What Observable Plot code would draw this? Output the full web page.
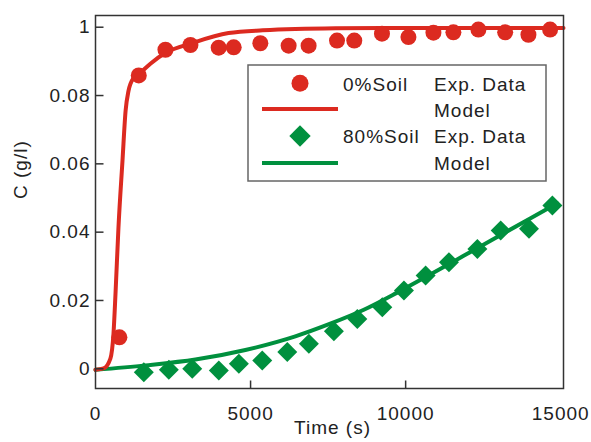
<!DOCTYPE html>
<html><head><meta charset="utf-8">
<script src="https://cdn.jsdelivr.net/npm/d3@7"></script>
<script src="https://cdn.jsdelivr.net/npm/@observablehq/plot@0.6"></script>
<style>body{margin:0;background:#fff} #chart svg{display:block}</style>
</head><body><div id="chart"></div>
<script>
// 0% soil: experimental data
const soil0Time = [770, 1395, 2255, 3061, 3972, 4456, 5315, 6227, 6871, 7787, 8344, 9237, 10090, 10896, 11540, 12346, 13209, 13959, 14658];
const soil0Conc = [0.0092, 0.0859, 0.0934, 0.0948, 0.0940, 0.0941, 0.0953, 0.0946, 0.0946, 0.0961, 0.0961, 0.0981, 0.0971, 0.0984, 0.0985, 0.0993, 0.0985, 0.0978, 0.0993];
// 0% soil: model
const soil0ModelTime = [0, 260, 480, 580, 645, 740, 870, 970, 1065, 1230, 1450, 1770, 2260, 3130, 4290, 5390, 7740, 10000, 15090];
const soil0ModelConc = [-0.0003, 0.0001, 0.0030, 0.0103, 0.0220, 0.0413, 0.0609, 0.0755, 0.0814, 0.0852, 0.0867, 0.0893, 0.0925, 0.0954, 0.0983, 0.0991, 0.0997, 0.0998, 0.0998];
// 80% soil: experimental data
const soil80Time = [1558, 2365, 3119, 3977, 4623, 5377, 6184, 6881, 7687, 8442, 9248, 9945, 10645, 11397, 12313, 13065, 13977, 14732];
const soil80Conc = [-0.0010, -0.0003, 0.0000, -0.0005, 0.0015, 0.0024, 0.0049, 0.0073, 0.0110, 0.0146, 0.0180, 0.0229, 0.0273, 0.0312, 0.0351, 0.0405, 0.0410, 0.0478];
// 80% soil: model
const soil80ModelTime = [0, 1611, 3222, 4833, 6443, 7571, 8634, 9729, 10793, 11856, 12951, 14014, 14884];
const soil80ModelConc = [-0.0003, 0.0010, 0.0027, 0.0055, 0.0095, 0.0132, 0.0172, 0.0223, 0.0276, 0.0330, 0.0386, 0.0440, 0.0484];

const yTicks = [0, 0.02, 0.04, 0.06, 0.08, 0.1];
const yTickLabels = ["0", "0.02", "0.04", "0.06", "0.08", "1"];
const xTicks = [0, 5000, 10000, 15000];
const xTickLabels = ["0", "5000", "10000", "15000"];
const xTickMarks = [5000, 10000];
const xTitle = "Time (s)";
const yTitle = "C (g/l)";
const legendRows = [
  {series: "0%Soil", kind: "Exp. Data", type: "dot"},
  {series: "", kind: "Model", type: "line0"},
  {series: "80%Soil", kind: "Exp. Data", type: "diamond"},
  {series: "", kind: "Model", type: "line80"}
];

const RED = "#dc2a20", GREEN = "#00903e";
const zip = (t, c) => t.map((v, i) => ({t: v, c: c[i]}));
const d0 = zip(soil0Time, soil0Conc), m0 = zip(soil0ModelTime, soil0ModelConc);
const d80 = zip(soil80Time, soil80Conc), m80 = zip(soil80ModelTime, soil80ModelConc);

const W = 591, H = 442, ML = 95, MR = 28, MT = 15, MB = 54;
const xDom = [0, 15090], yDom = [-0.00577, 0.10343];
const TICK = 8; // inward tick length in px
const xTickLen = TICK * (xDom[1] - xDom[0]) / (W - ML - MR);
const yTickLen = TICK * (yDom[1] - yDom[0]) / (H - MT - MB);
const yTickRows = yTicks.map(v => ({y: v, x1: xDom[0], x2: xDom[0] + xTickLen}));
const xTickRows = xTickMarks.map(v => ({x: v, y1: yDom[0], y2: yDom[0] + yTickLen}));

const chart = Plot.plot({
  width: W, height: H,
  marginLeft: ML, marginRight: MR, marginTop: MT, marginBottom: MB,
  style: {fontFamily: "'Liberation Sans', Arial, sans-serif", fontSize: "19px", letterSpacing: "1px", color: "#222", background: "#fff", overflow: "visible"},
  x: {domain: xDom, label: null},
  y: {domain: yDom, label: null},
  marks: [
    Plot.line(m80, {x: "t", y: "c", stroke: GREEN, strokeWidth: 4, curve: "monotone-x"}),
    Plot.dot(d80, {x: "t", y: "c", r: 9, symbol: "diamond2", fill: GREEN, stroke: "none"}),
    Plot.line(m0, {x: "t", y: "c", stroke: RED, strokeWidth: 4, curve: "monotone-x"}),
    Plot.dot(d0, {x: "t", y: "c", r: 8, fill: RED, stroke: "none"}),
    Plot.link(yTickRows, {x1: "x1", x2: "x2", y1: "y", y2: "y", stroke: "#333", strokeWidth: 1.5}),
    Plot.link(xTickRows, {x1: "x", x2: "x", y1: "y1", y2: "y2", stroke: "#333", strokeWidth: 1.5}),
    Plot.frame({stroke: "#333", strokeWidth: 1.5}),
    Plot.axisY(yTicks, {tickSize: 0, tickPadding: 5, tickFormat: d => yTickLabels[yTicks.indexOf(d)], label: null, fill: "#222"}),
    Plot.axisX(xTicks, {tickSize: 0, tickPadding: 18, tickFormat: d => xTickLabels[xTicks.indexOf(d)], label: null, fill: "#222"}),
    Plot.text([xTitle], {frameAnchor: "bottom", dy: 45, dx: 3, text: d => d, fill: "#222"}),
    Plot.text([yTitle], {frameAnchor: "left", dx: -75, dy: -3, rotate: -90, text: d => d, fill: "#222"})
  ]
});
document.getElementById("chart").appendChild(chart);

// Legend (drawn inside the plot area)
const svg = d3.select(chart);
const lg = svg.append("g").attr("class", "legend").attr("text-anchor", "start");
const box = {x: 248, y: 65, w: 298, h: 116};
lg.append("rect").attr("x", box.x).attr("y", box.y).attr("width", box.w).attr("height", box.h)
  .attr("fill", "#fff").attr("stroke", "#666").attr("stroke-width", 1.5);
const rowY = [83.3, 109, 136, 163];
const baseY = [90.7, 116.7, 143.3, 170];
legendRows.forEach((row, i) => {
  const cy = rowY[i];
  if (row.type === "dot") lg.append("circle").attr("cx", 300).attr("cy", cy).attr("r", 8.5).attr("fill", RED);
  if (row.type === "diamond") lg.append("path").attr("d", d3.symbol(d3.symbolDiamond2, 292)()).attr("transform", `translate(300,${cy})`).attr("fill", GREEN);
  if (row.type === "line0" || row.type === "line80") lg.append("line").attr("x1", 262).attr("x2", 338).attr("y1", cy).attr("y2", cy)
    .attr("stroke", row.type === "line0" ? RED : GREEN).attr("stroke-width", 4);
  if (row.series) lg.append("text").attr("x", 343).attr("y", baseY[i]).attr("text-anchor", "start").attr("fill", "#222").text(row.series);
  lg.append("text").attr("x", 434).attr("y", baseY[i]).attr("text-anchor", "start").attr("fill", "#222").text(row.kind);
});
</script>
</body></html>
